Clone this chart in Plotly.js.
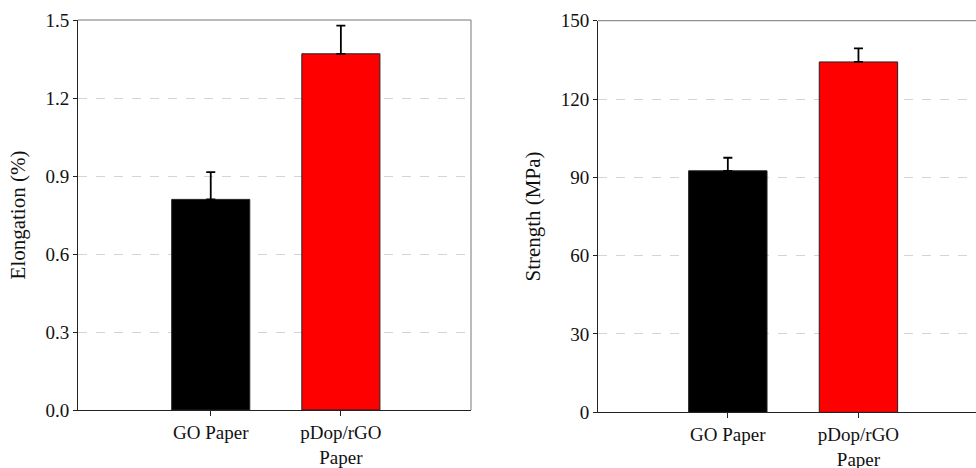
<!DOCTYPE html>
<html><head><meta charset="utf-8">
<script src="https://cdn.plot.ly/plotly-3.0.1.min.js"></script>
<style>html,body{margin:0;padding:0;background:#fff}#c{width:976px;height:468px}</style>
</head><body><div id="c"></div>
<script>
const categories = ["GO Paper", "pDop/rGO<br>Paper"];
const elongation = [0.81, 1.37];
const elongationErr = [0.105, 0.108];
const strength = [92.5, 134.2];
const strengthErr = [5.0, 5.2];
const barColors = ["#000000", "#ff0000"];
const elongTicks = [0, 0.3, 0.6, 0.9, 1.2, 1.5];
const strengthTicks = [0, 30, 60, 90, 120, 150];

const font = {family: "Liberation Serif, Times New Roman, serif", size: 19, color: "#111"};

const traces = [
  {type: "bar", x: categories, y: elongation, xaxis: "x", yaxis: "y", width: 0.6,
   marker: {color: barColors, line: {color: "#222", width: 1}},
   error_y: {type: "data", array: elongationErr, arrayminus: [0, 0], symmetric: false, color: "#000", thickness: 1.8, width: 4.5}},
  {type: "bar", x: categories, y: strength, xaxis: "x2", yaxis: "y2", width: 0.6,
   marker: {color: barColors, line: {color: "#222", width: 1}},
   error_y: {type: "data", array: strengthErr, arrayminus: [0, 0], symmetric: false, color: "#000", thickness: 1.8, width: 4.5}}
];

const gridStyle = {showgrid: true, gridcolor: "#d4d4d4", griddash: "dash", gridwidth: 1};

const layout = {
  width: 976, height: 468, margin: {l: 0, r: 0, t: 0, b: 0},
  paper_bgcolor: "#fff", plot_bgcolor: "#fff", showlegend: false, font: font,
  xaxis: {domain: [78/976, 471/976], range: [-1.02, 2.0], anchor: "y", showline: true, linecolor: "#222", linewidth: 1,
          ticks: "outside", ticklen: 5, tickcolor: "#222", showgrid: false, zeroline: false, tickfont: font, fixedrange: true},
  yaxis: Object.assign({domain: [1-410/468, 1-20/468], range: [0, 1.5], anchor: "x", tickvals: elongTicks,
          ticktext: elongTicks.map(v => v.toFixed(1)), showline: true, linecolor: "#222", linewidth: 1,
          ticks: "outside", ticklen: 4, tickcolor: "#222", zeroline: false, tickfont: font,
          title: {text: "Elongation (%)", font: {family: font.family, size: 21, color: "#111"}, standoff: 14}}, gridStyle),
  xaxis2: {domain: [598/976, 1.0], range: [-0.994, 1.9], anchor: "y2", showline: true, linecolor: "#222", linewidth: 1,
          ticks: "outside", ticklen: 5, tickcolor: "#222", showgrid: false, zeroline: false, tickfont: font, fixedrange: true},
  yaxis2: Object.assign({domain: [1-412.3/468, 1-20.7/468], range: [0, 150], anchor: "x2", tickvals: strengthTicks,
          showline: true, linecolor: "#222", linewidth: 1,
          ticks: "outside", ticklen: 4, tickcolor: "#222", zeroline: false, tickfont: font,
          title: {text: "Strength (MPa)", font: {family: font.family, size: 21, color: "#111"}, standoff: 14}}, gridStyle),
  shapes: [
    {type: "line", xref: "x domain", yref: "y domain", x0: 0, x1: 1, y0: 1, y1: 1, line: {color: "#777", width: 1}},
    {type: "line", xref: "x domain", yref: "y domain", x0: 1, x1: 1, y0: 0, y1: 1, line: {color: "#777", width: 1}},
    {type: "line", xref: "x2 domain", yref: "y2 domain", x0: 0, x1: 1, y0: 1, y1: 1, line: {color: "#777", width: 1}}
  ],
  bargap: 0.4
};

Plotly.newPlot("c", traces, layout, {staticPlot: true, displayModeBar: false});
</script>
</body></html>
